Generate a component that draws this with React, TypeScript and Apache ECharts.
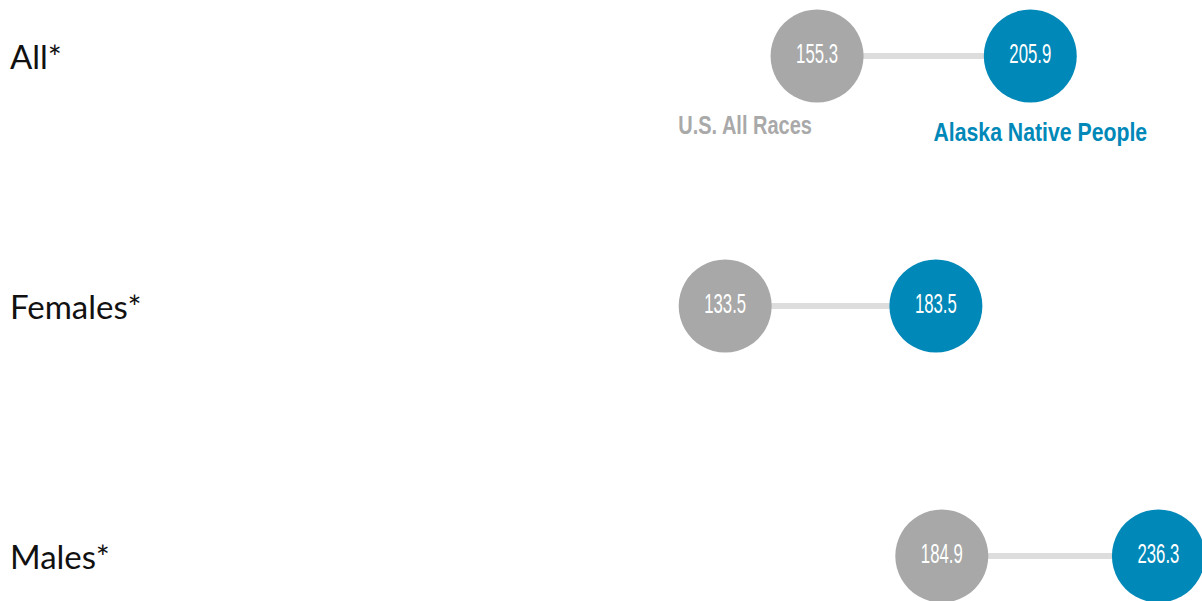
import React, { useEffect, useRef } from "react";
import * as echarts from "echarts";

const categories = ["All*", "Females*", "Males*"];
const usAllRaces = [155.3, 133.5, 184.9];
const alaskaNative = [205.9, 183.5, 236.3];
const seriesNames = ["U.S. All Races", "Alaska Native People"];

const GRAY = "#a7a8a7";
const BLUE = "#0088b8";
const SANS = "'Liberation Sans', Arial, sans-serif";

function circleSeries(name: string, values: number[], color: string) {
  return {
    name,
    type: "custom",
    z: 3,
    clip: false,
    data: values.map((v, i) => [v, i]),
    encode: { x: 0, y: 1 },
    renderItem: (_params: any, api: any) => {
      const v = api.value(0);
      const p = api.coord([v, api.value(1)]);
      return {
        type: "group",
        children: [
          {
            type: "circle",
            shape: { cx: p[0], cy: p[1], r: 46.5 },
            style: { fill: color },
          },
          {
            type: "text",
            x: p[0],
            y: p[1] - 2,
            scaleX: 0.62,
            style: {
              text: v.toFixed(1),
              x: 0,
              y: 0,
              align: "center",
              verticalAlign: "middle",
              fill: "#ffffff",
              font: `normal 27px ${SANS}`,
            },
          },
        ],
      };
    },
  };
}

function nameSeries(name: string, value: number, color: string, dx: number, dy: number, sx: number) {
  return {
    type: "custom",
    z: 4,
    silent: true,
    clip: false,
    data: [[value, 0]],
    encode: { x: 0, y: 1 },
    renderItem: (_params: any, api: any) => {
      const p = api.coord([api.value(0), api.value(1)]);
      return {
        type: "text",
        x: p[0] + dx,
        y: p[1] + dy,
        scaleX: sx,
        style: {
          text: name,
          x: 0,
          y: 0,
          align: "center",
          verticalAlign: "middle",
          fill: color,
          font: `bold 25px ${SANS}`,
        },
      };
    },
  };
}

export default function App() {
  const ref = useRef<HTMLDivElement>(null);
  useEffect(() => {
    document.body.style.margin = "0";
    const chart = echarts.init(ref.current!, null, { renderer: "svg" });
    chart.setOption({
      animation: false,
      grid: { left: 584, right: 28, top: 56, bottom: 45 },
      xAxis: {
        type: "value",
        min: 100,
        max: 240,
        show: false,
      },
      yAxis: {
        type: "category",
        data: categories,
        inverse: true,
        boundaryGap: false,
        axisLine: { show: false },
        axisTick: { show: false },
        splitLine: { show: false },
        axisLabel: {
          align: "left",
          margin: 574,
          fontSize: 33,
          fontFamily: "Lato, 'Noto Sans', sans-serif",
          color: "#111111",
        },
      },
      series: [
        {
          type: "custom",
          silent: true,
          z: 1,
          data: categories.map((_, i) => [usAllRaces[i], alaskaNative[i], i]),
          encode: { x: [0, 1], y: 2 },
          renderItem: (_params: any, api: any) => {
            const a = api.coord([api.value(0), api.value(2)]);
            const b = api.coord([api.value(1), api.value(2)]);
            return {
              type: "line",
              shape: { x1: a[0], y1: a[1], x2: b[0], y2: b[1] },
              style: { stroke: "#dddddd", lineWidth: 6 },
            };
          },
        },
        circleSeries(seriesNames[0], usAllRaces, GRAY),
        circleSeries(seriesNames[1], alaskaNative, BLUE),
        nameSeries(seriesNames[0], usAllRaces[0], "#a9a9a9", -72, 70, 0.8),
        nameSeries(seriesNames[1], alaskaNative[0], BLUE, 10, 76, 0.85),
      ],
    });
    return () => chart.dispose();
  }, []);
  return <div ref={ref} style={{ width: 1202, height: 601 }} />;
}
